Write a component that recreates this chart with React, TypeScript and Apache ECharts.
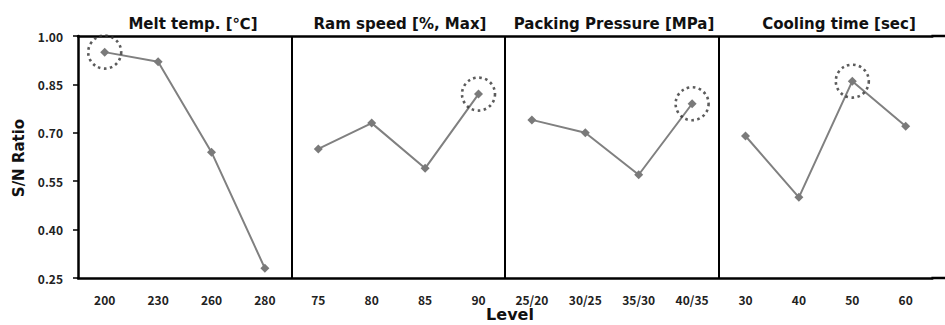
import React, { useEffect, useRef } from "react";
import * as echarts from "echarts";

const panelTitles = ["Melt temp. [℃]", "Ram speed [%, Max]", "Packing Pressure [MPa]", "Cooling time [sec]"];
const meltTempLevels = ["200", "230", "260", "280"];
const ramSpeedLevels = ["75", "80", "85", "90"];
const packingLevels = ["25/20", "30/25", "35/30", "40/35"];
const coolingLevels = ["30", "40", "50", "60"];
const meltTempSN = [0.95, 0.92, 0.64, 0.28];
const ramSpeedSN = [0.65, 0.73, 0.59, 0.82];
const packingSN = [0.74, 0.7, 0.57, 0.79];
const coolingSN = [0.69, 0.5, 0.86, 0.72];
const optimalIndex = [0, 3, 3, 2];
const yTicks = [0.25, 0.4, 0.55, 0.7, 0.85, 1.0];

const levelGroups = [meltTempLevels, ramSpeedLevels, packingLevels, coolingLevels];
const valueGroups = [meltTempSN, ramSpeedSN, packingSN, coolingSN];

const FONT = "'Noto Sans CJK KR', 'Noto Sans', sans-serif";
const TITLE_FONT = "'DejaVu Sans', 'Noto Sans', sans-serif";
const GRID_LEFT = 78;
const GRID_TOP = 36;
const CAT_W = 53.4;
const GRID_H = 242;
const W = 945;

export default function App() {
  const ref = useRef<HTMLDivElement>(null);
  useEffect(() => {
    if (!ref.current) return;
    const chart = echarts.init(ref.current, undefined, { renderer: "svg" });
    const categories: string[] = [];
    levelGroups.forEach((g) => g.forEach((l) => categories.push(l)));
    const total = categories.length;

    const series: any[] = valueGroups.map((vals, p) => {
      const data: (number | null)[] = new Array(total).fill(null);
      vals.forEach((v, i) => (data[p * 4 + i] = v));
      return {
        type: "line",
        data,
        connectNulls: false,
        symbol: "diamond",
        symbolSize: 9,
        lineStyle: { color: "#808080", width: 2 },
        itemStyle: { color: "#7a7a7a" },
        z: 3,
      };
    });
    series.push({
      type: "scatter",
      data: optimalIndex.map((idx, p) => [p * 4 + idx, valueGroups[p][idx]]),
      symbol: "circle",
      symbolSize: 33,
      itemStyle: {
        color: "rgba(0,0,0,0)",
        borderColor: "#333",
        borderWidth: 2.6,
        borderType: [2.6, 3.4],
      },
      z: 4,
    });

    const gridW = CAT_W * total;
    const gridRight = GRID_LEFT + gridW;
    const panelCenters = [193, 400, 614, 839];
    const graphic: any[] = panelTitles.map((t, i) => ({
      type: "text",
      x: panelCenters[i],
      y: 24,
      style: {
        text: t,
        font: `bold 15px ${TITLE_FONT}`,
        fill: "#111",
        textAlign: "center",
        textVerticalAlign: "middle",
      },
    }));
    graphic.push({
      type: "text",
      x: 510,
      y: 314,
      style: {
        text: "Level",
        font: `bold 16px ${TITLE_FONT}`,
        fill: "#111",
        textAlign: "center",
        textVerticalAlign: "middle",
      },
    });
    graphic.push({
      type: "text",
      x: 19,
      y: 158,
      rotation: Math.PI / 2,
      style: {
        text: "S/N Ratio",
        font: `bold 15px ${TITLE_FONT}`,
        fill: "#111",
        textAlign: "center",
        textVerticalAlign: "middle",
      },
    });
    // extend top border and bottom axis line to the right edge
    graphic.push({
      type: "line",
      shape: { x1: gridRight - 1, y1: GRID_TOP, x2: W, y2: GRID_TOP },
      style: { stroke: "#000", lineWidth: 2.5 },
    });
    graphic.push({
      type: "line",
      shape: { x1: gridRight - 1, y1: GRID_TOP + GRID_H, x2: W, y2: GRID_TOP + GRID_H },
      style: { stroke: "#000", lineWidth: 2.5 },
    });

    chart.setOption({
      animation: false,
      backgroundColor: "#fff",
      grid: {
        left: GRID_LEFT,
        top: GRID_TOP,
        width: gridW,
        height: GRID_H,
      },
      xAxis: [
        {
          type: "category",
          data: categories,
          boundaryGap: true,
          axisLine: { lineStyle: { color: "#000", width: 2.5 } },
          axisTick: { alignWithLabel: true, length: 6, lineStyle: { color: "#000", width: 2 } },
          axisLabel: {
            interval: 0,
            margin: 15,
            fontFamily: FONT,
            fontWeight: "bold",
            fontSize: 12,
            color: "#222",
          },
          splitLine: { show: false },
        },
        {
          type: "category",
          data: categories,
          position: "top",
          boundaryGap: true,
          axisLine: { lineStyle: { color: "#000", width: 2.5 } },
          axisTick: { show: false },
          axisLabel: { show: false },
          splitLine: { show: false },
        },
        {
          type: "value",
          position: "bottom",
          min: 0,
          max: total,
          interval: 4,
          show: true,
          axisLine: { show: false },
          axisTick: { show: false },
          axisLabel: { show: false },
          splitLine: {
            show: true,
            showMinLine: false,
            showMaxLine: false,
            lineStyle: { color: "#000", width: 2 },
          },
        },
      ],
      yAxis: {
        type: "value",
        min: yTicks[0],
        max: yTicks[yTicks.length - 1],
        interval: 0.15,
        axisLine: { show: true, lineStyle: { color: "#000", width: 2.5 } },
        axisTick: { show: true, length: 5, lineStyle: { color: "#000", width: 1.5 } },
        axisLabel: {
          margin: 15,
          fontFamily: FONT,
          fontWeight: "bold",
          fontSize: 12,
          color: "#222",
          formatter: (v: number) => v.toFixed(2),
        },
        splitLine: { show: false },
      },
      graphic,
      series,
    });
    return () => chart.dispose();
  }, []);
  return (
    <div
      ref={ref}
      style={{ position: "fixed", left: 0, top: 0, width: W, height: 325, background: "#fff" }}
    />
  );
}
